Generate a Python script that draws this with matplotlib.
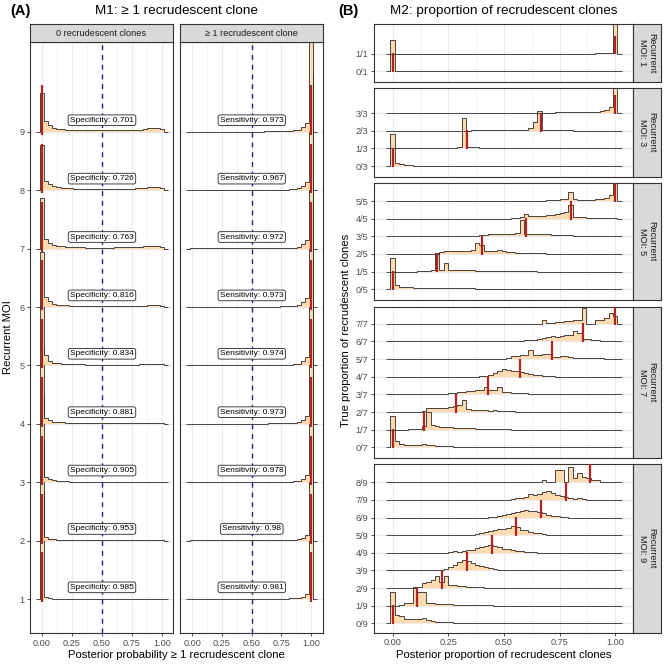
import numpy as np
import matplotlib
matplotlib.use("Agg")
import matplotlib.pyplot as plt

plt.rcParams['font.family'] = ['Liberation Sans', 'DejaVu Sans']

# ---------------- data : panel A (M1) ----------------
moi_levels = [1, 2, 3, 4, 5, 6, 7, 8, 9]
specificity = [0.985, 0.953, 0.905, 0.881, 0.834, 0.816, 0.763, 0.726, 0.701]
sensitivity = [0.981, 0.98, 0.978, 0.973, 0.974, 0.973, 0.972, 0.967, 0.973]
a_nbins = 30  # bins centred on 0 ... 1
# ridge heights (row units), facet "0 recrudescent clones", MOI 1..9
a_hist_zero = [
    [1.85, 0.03, 0.01, 0.008, 0.005, 0.005, 0.003, 0.003, 0.003, 0.003, 0.003, 0.003, 0.003, 0.003, 0.003,
     0.003, 0.003, 0.003, 0.003, 0.003, 0.003, 0.003, 0.003, 0.003, 0.003, 0.003, 0.004, 0.004, 0.003, 0.003],
    [1.7, 0.06, 0.03, 0.02, 0.015, 0.01, 0.01, 0.008, 0.008, 0.005, 0.005, 0.005, 0.005, 0.005, 0.005,
     0.005, 0.005, 0.005, 0.005, 0.005, 0.005, 0.005, 0.005, 0.005, 0.005, 0.005, 0.008, 0.008, 0.005, 0.005],
    [1.5, 0.085, 0.05, 0.03, 0.02, 0.015, 0.015, 0.01, 0.01, 0.01, 0.01, 0.01, 0.01, 0.008, 0.008,
     0.008, 0.008, 0.008, 0.008, 0.008, 0.008, 0.008, 0.008, 0.008, 0.008, 0.01, 0.01, 0.01, 0.01, 0.008],
    [1.3, 0.1, 0.07, 0.04, 0.03, 0.025, 0.02, 0.02, 0.015, 0.015, 0.015, 0.01, 0.01, 0.01, 0.01,
     0.01, 0.01, 0.01, 0.01, 0.01, 0.01, 0.01, 0.01, 0.01, 0.01, 0.015, 0.015, 0.015, 0.015, 0.01],
    [1.1, 0.18, 0.08, 0.05, 0.04, 0.03, 0.03, 0.025, 0.02, 0.02, 0.02, 0.015, 0.015, 0.015, 0.015,
     0.015, 0.015, 0.015, 0.015, 0.015, 0.015, 0.015, 0.015, 0.015, 0.02, 0.02, 0.02, 0.02, 0.02, 0.02],
    [0.95, 0.17, 0.1, 0.06, 0.04, 0.035, 0.03, 0.025, 0.02, 0.02, 0.02, 0.02, 0.015, 0.015, 0.015,
     0.015, 0.015, 0.015, 0.02, 0.02, 0.02, 0.02, 0.02, 0.02, 0.025, 0.025, 0.03, 0.03, 0.03, 0.025],
    [0.86, 0.16, 0.09, 0.06, 0.05, 0.04, 0.035, 0.03, 0.03, 0.025, 0.025, 0.02, 0.02, 0.02, 0.02,
     0.02, 0.02, 0.02, 0.025, 0.025, 0.025, 0.025, 0.03, 0.03, 0.035, 0.04, 0.045, 0.04, 0.04, 0.035],
    [0.77, 0.16, 0.1, 0.07, 0.05, 0.04, 0.04, 0.035, 0.03, 0.03, 0.025, 0.025, 0.025, 0.02, 0.02,
     0.02, 0.02, 0.025, 0.025, 0.025, 0.03, 0.03, 0.03, 0.035, 0.04, 0.045, 0.05, 0.06, 0.055, 0.04],
    [0.67, 0.18, 0.12, 0.07, 0.05, 0.05, 0.04, 0.04, 0.035, 0.03, 0.03, 0.03, 0.03, 0.03, 0.03,
     0.03, 0.03, 0.03, 0.035, 0.035, 0.04, 0.04, 0.035, 0.04, 0.04, 0.05, 0.06, 0.07, 0.065, 0.05],
]
# facet ">= 1 recrudescent clone", MOI 1..9
a_hist_one = [
    [0.004, 0.004, 0.004, 0.004, 0.004, 0.004, 0.004, 0.004, 0.004, 0.004, 0.004, 0.004, 0.004, 0.004, 0.004,
     0.004, 0.004, 0.004, 0.004, 0.005, 0.006, 0.006, 0.008, 0.008, 0.01, 0.015, 0.02, 0.04, 0.09, 1.95],
    [0.004, 0.004, 0.004, 0.004, 0.004, 0.004, 0.004, 0.004, 0.004, 0.004, 0.004, 0.004, 0.004, 0.004, 0.004,
     0.004, 0.004, 0.004, 0.005, 0.005, 0.006, 0.006, 0.008, 0.008, 0.01, 0.015, 0.02, 0.05, 0.1, 1.95],
    [0.005, 0.005, 0.005, 0.005, 0.005, 0.005, 0.005, 0.005, 0.005, 0.005, 0.005, 0.005, 0.005, 0.005, 0.005,
     0.005, 0.005, 0.005, 0.005, 0.006, 0.006, 0.008, 0.008, 0.01, 0.012, 0.015, 0.025, 0.05, 0.12, 1.95],
    [0.005, 0.005, 0.005, 0.005, 0.005, 0.005, 0.005, 0.005, 0.005, 0.005, 0.005, 0.005, 0.005, 0.005, 0.005,
     0.005, 0.006, 0.006, 0.006, 0.007, 0.008, 0.008, 0.01, 0.01, 0.012, 0.02, 0.03, 0.06, 0.14, 1.95],
    [0.005, 0.005, 0.005, 0.005, 0.005, 0.005, 0.005, 0.005, 0.005, 0.005, 0.005, 0.005, 0.005, 0.005, 0.005,
     0.005, 0.006, 0.006, 0.006, 0.007, 0.008, 0.008, 0.01, 0.01, 0.012, 0.02, 0.03, 0.07, 0.15, 1.95],
    [0.005, 0.005, 0.005, 0.005, 0.005, 0.005, 0.005, 0.005, 0.005, 0.005, 0.005, 0.005, 0.005, 0.005, 0.006,
     0.006, 0.006, 0.006, 0.007, 0.007, 0.008, 0.009, 0.01, 0.012, 0.015, 0.02, 0.03, 0.08, 0.15, 1.95],
    [0.005, 0.005, 0.005, 0.005, 0.005, 0.005, 0.005, 0.005, 0.005, 0.005, 0.005, 0.005, 0.006, 0.006, 0.006,
     0.006, 0.006, 0.007, 0.007, 0.008, 0.008, 0.009, 0.01, 0.012, 0.015, 0.02, 0.03, 0.08, 0.15, 1.95],
    [0.005, 0.005, 0.005, 0.005, 0.005, 0.005, 0.005, 0.005, 0.005, 0.005, 0.005, 0.005, 0.006, 0.006, 0.006,
     0.006, 0.007, 0.007, 0.008, 0.008, 0.009, 0.01, 0.01, 0.012, 0.015, 0.02, 0.035, 0.08, 0.15, 1.95],
    [0.005, 0.005, 0.005, 0.005, 0.005, 0.005, 0.005, 0.005, 0.005, 0.005, 0.005, 0.005, 0.006, 0.006, 0.006,
     0.006, 0.007, 0.007, 0.008, 0.008, 0.009, 0.01, 0.01, 0.012, 0.015, 0.025, 0.035, 0.08, 0.15, 1.95],
]
a_facets = ["0 recrudescent clones", "\u2265 1 recrudescent clone"]

# ---------------- data : panel B (M2) ----------------
b_nbins = 51  # bin width 0.02, centred on 0 ... 1
b_moi = [1, 3, 5, 7, 9]
b_rows = [[0, 1], [0, 1, 2, 3], [0, 1, 2, 3, 4, 5], [0, 1, 2, 3, 4, 5, 6, 7],
          [0, 1, 2, 3, 4, 5, 6, 7, 8]]
# each ridge: (first bin index, heights from that bin on)
b_hist_moi1 = [
    (0, [1.79]),
    (46, [0.01, 0.02, 0.03, 0.06, 1.9]),
]
b_hist_moi3 = [
    (0, [1.79, 0.15, 0.10, 0.05, 0.04, 0.03, 0.03, 0.03, 0.03, 0.03, 0.02, 0.02, 0.02, 0.02, 0.02, 0.02,
         0.02, 0.03, 0.03, 0.02, 0.02, 0.02, 0.01, 0.01]),
    (10, [0.01, 0.02, 0.03, 0.04, 0.05, 0.07, 1.7, 0.09, 0.09, 0.06, 0.04, 0.04, 0.04, 0.04, 0.03, 0.03,
          0.03, 0.03, 0.02, 0.02, 0.02, 0.02, 0.02, 0.01, 0.01]),
    (17, [0.01, 0.02, 0.02, 0.02, 0.03, 0.03, 0.04, 0.04, 0.05, 0.05, 0.05, 0.06, 0.06, 0.06, 0.17, 0.47,
          1.11, 0.03, 0.02, 0.02, 0.02, 0.02, 0.02, 0.02, 0.01, 0.01, 0.01, 0.01]),
    (30, [0.01, 0.02, 0.02, 0.03, 0.03, 0.03, 0.03, 0.04, 0.04, 0.04, 0.04, 0.04, 0.04, 0.05, 0.05, 0.05,
          0.06, 0.1, 0.15, 0.34, 2.0]),
]
b_hist_moi5 = [
    (0, [1.79, 0.23, 0.15, 0.11, 0.10, 0.08, 0.07, 0.06, 0.06, 0.05, 0.05, 0.05, 0.05, 0.05, 0.05, 0.06,
         0.06, 0.05, 0.05, 0.04, 0.04, 0.03, 0.03, 0.02, 0.02, 0.02, 0.01, 0.01, 0.01, 0.01, 0.01, 0.01]),
    (6, [0.01, 0.02, 0.04, 0.11, 1.06, 0.08, 0.47, 0.11, 0.10, 0.09, 0.08, 0.07, 0.07, 0.06, 0.05, 0.05,
         0.04, 0.04, 0.03, 0.03, 0.03, 0.02, 0.02, 0.02, 0.01, 0.01, 0.01]),
    (10, [0.02, 0.13, 0.14, 0.15, 0.15, 0.16, 0.17, 0.18, 0.2, 0.62, 0.5, 0.15, 0.14, 0.14, 0.23, 0.14,
          0.12, 0.10, 0.08, 0.07, 0.06, 0.05, 0.04, 0.03, 0.03, 0.02, 0.02, 0.01]),
    (20, [0.05, 0.1, 0.12, 0.12, 0.12, 0.14, 0.15, 0.15, 0.2, 0.94, 0.12, 0.12, 0.13, 0.14, 0.12, 0.11,
          0.1, 0.09, 0.08, 0.06, 0.05, 0.04, 0.03, 0.02, 0.01]),
    (27, [0.02, 0.05, 0.1, 0.26, 0.13, 0.13, 0.14, 0.15, 0.2, 0.22, 0.24, 0.3, 0.38, 0.79, 0.08, 0.07,
          0.07, 0.06, 0.06, 0.05, 0.05, 0.04, 0.03, 0.02]),
    (30, [0.01, 0.02, 0.02, 0.03, 0.03, 0.04, 0.05, 0.08, 0.1, 0.12, 0.49, 0.1, 0.08, 0.08, 0.07, 0.08,
          0.09, 0.12, 0.2, 0.35, 2.0]),
]
b_hist_moi7 = [
    (0, [1.79, 0.34, 0.19, 0.13, 0.13, 0.13, 0.13, 0.17, 0.14, 0.12, 0.1, 0.08, 0.06, 0.05, 0.04, 0.04,
         0.03, 0.03, 0.02, 0.02, 0.02, 0.01, 0.01]),
    (4, [0.02, 0.03, 0.05, 0.19, 1.0, 0.28, 0.23, 0.15, 0.14, 0.13, 0.12, 0.1, 0.09, 0.08, 0.07, 0.06,
         0.05, 0.04, 0.03, 0.03, 0.02, 0.02, 0.01]),
    (7, [0.05, 0.2, 0.22, 0.23, 0.23, 0.24, 0.3, 0.36, 0.42, 0.66, 0.15, 0.14, 0.12, 0.12, 0.1, 0.08,
         0.1, 0.07, 0.05, 0.04, 0.03, 0.02, 0.01]),
    (13, [0.05, 0.1, 0.15, 0.16, 0.18, 0.2, 0.22, 0.22, 0.41, 0.26, 0.26, 0.41, 0.15, 0.12, 0.1, 0.08,
          0.06, 0.05, 0.04, 0.02, 0.01]),
    (20, [0.02, 0.04, 0.08, 0.2, 0.35, 0.43, 0.4, 0.35, 0.3, 0.25, 0.2, 0.15, 0.12, 0.08, 0.05, 0.03,
          0.02, 0.01]),
    (25, [0.03, 0.08, 0.15, 0.2, 0.22, 0.25, 0.53, 0.25, 0.25, 0.28, 0.3, 0.1, 0.1, 0.2, 0.15, 0.1,
          0.08, 0.06, 0.05, 0.05, 0.04, 0.04, 0.04, 0.03, 0.03, 0.02]),
    (27, [0.03, 0.05, 0.05, 0.06, 0.1, 0.1, 0.15, 0.2, 0.25, 0.3, 0.25, 0.3, 0.35, 0.35, 0.6, 0.47,
          0.15, 0.12, 0.08, 0.06, 0.05, 0.04, 0.04, 0.03]),
    (34, [0.19, 0.02, 0.02, 0.1, 0.12, 0.15, 0.18, 0.2, 0.2, 0.89, 0.01, 0.01, 0.2, 0.2, 0.35, 0.64, 0.45]),
]
b_hist_moi9 = [
    (0, [1.79, 0.5, 0.4, 0.25, 0.22, 0.22, 0.22, 0.3, 0.2, 0.15, 0.1, 0.07, 0.05, 0.05, 0.04, 0.03,
         0.03, 0.02, 0.02, 0.01, 0.01]),
    (2, [0.05, 0.13, 0.13, 1.04, 0.8, 0.8, 0.15, 0.13, 0.1, 0.09, 0.08, 0.07, 0.06, 0.05, 0.05, 0.04,
         0.04, 0.03, 0.03, 0.02, 0.02, 0.01]),
    (6, [0.05, 0.26, 0.36, 0.45, 0.68, 0.35, 0.7, 0.17, 0.15, 0.12, 0.1, 0.08, 0.06, 0.05, 0.04, 0.03,
         0.02, 0.01]),
    (10, [0.03, 0.05, 0.1, 0.2, 0.3, 0.45, 0.58, 0.53, 0.4, 0.3, 0.25, 0.2, 0.12, 0.08, 0.05, 0.03,
          0.02, 0.01]),
    (13, [0.02, 0.1, 0.05, 0.12, 0.15, 0.15, 0.25, 0.3, 0.38, 0.45, 0.4, 0.3, 0.22, 0.2, 0.15, 0.12,
          0.08, 0.05, 0.03, 0.02, 0.01]),
    (18, [0.02, 0.05, 0.1, 0.2, 0.25, 0.3, 0.33, 0.35, 0.4, 0.5, 0.45, 0.3, 0.3, 0.2, 0.15, 0.1, 0.05,
          0.03, 0.02]),
    (22, [0.02, 0.03, 0.08, 0.15, 0.2, 0.25, 0.3, 0.35, 0.45, 0.35, 0.38, 0.3, 0.25, 0.15, 0.1, 0.06,
          0.04, 0.02]),
    (26, [0.02, 0.05, 0.1, 0.12, 0.15, 0.35, 0.3, 0.35, 0.45, 0.5, 0.4, 0.3, 0.2, 0.15, 0.1, 0.06, 0.1,
          0.04, 0.02]),
    (34, [0.15, 0.02, 0.02, 0.68, 0.68, 0.02, 0.87, 0.25, 0.5, 0.3, 0.25, 0.15, 0.15]),
]
b_hists = [b_hist_moi1, b_hist_moi3, b_hist_moi5, b_hist_moi7, b_hist_moi9]

# ---------------- styling ----------------
FILL = '#FDDAB0'
EDGE = '#2b2b2b'
RED = '#B3231E'
BLUE = '#1E1E9C'
GRID = '#EBEBEB'
BORDER = '#333333'
STRIPBG = '#D9D9D9'
TICKC = '#4D4D4D'

W = H = 667
fig = plt.figure(figsize=(6.67, 6.67), dpi=100)


def add_ax(x0, y0, x1, y1):
    return fig.add_axes([x0 / W, 1 - y1 / H, (x1 - x0) / W, (y1 - y0) / H])


def style_panel(ax):
    for s in ax.spines.values():
        s.set_color(BORDER)
        s.set_linewidth(0.8)
    ax.set_facecolor('white')
    ax.tick_params(axis='both', colors=BORDER, labelcolor=TICKC, labelsize=6.6,
                   length=2.5, width=0.6, pad=1.5)
    ax.set_xticks([0, 0.25, 0.5, 0.75, 1.0])
    ax.set_xticks([0.125, 0.375, 0.625, 0.875], minor=True)
    ax.tick_params(axis='x', which='minor', length=0)
    ax.grid(True, which='major', color=GRID, lw=0.8, zorder=0)
    ax.grid(True, which='minor', axis='x', color=GRID, lw=0.45, zorder=0)
    ax.set_axisbelow(True)


def draw_ridge(ax, centers, width, heights, y0, z):
    h = np.concatenate([[0.0], heights, [0.0]])
    edges = np.concatenate([[centers[0] - 1.5 * width], centers - width / 2,
                            [centers[-1] + width / 2, centers[-1] + 1.5 * width]])
    ax.stairs(y0 + h, edges, baseline=y0, fill=True, color=FILL, lw=0, zorder=z)
    ax.stairs(y0 + h, edges, baseline=None, color=EDGE, lw=0.6, zorder=z + 0.01)


def strip_top(x0, x1, y0, y1, text):
    s = add_ax(x0, y0, x1, y1)
    s.set_xticks([]); s.set_yticks([])
    s.set_facecolor(STRIPBG)
    for sp in s.spines.values():
        sp.set_color(BORDER); sp.set_linewidth(0.8)
    s.text(0.5, 0.5, text, ha='center', va='center', fontsize=6.6, color='#1A1A1A',
           transform=s.transAxes)


def strip_right(x0, x1, y0, y1, text):
    s = add_ax(x0, y0, x1, y1)
    s.set_xticks([]); s.set_yticks([])
    s.set_facecolor(STRIPBG)
    for sp in s.spines.values():
        sp.set_color(BORDER); sp.set_linewidth(0.8)
    s.text(0.5, 0.5, text, ha='center', va='center', fontsize=6.6, color='#1A1A1A',
           rotation=-90, linespacing=0.95, transform=s.transAxes)


# ================= panel A =================
a_centers = np.linspace(0, 1, a_nbins)
a_w = a_centers[1] - a_centers[0]
a_boxes = [(30, 173, -0.1, 1.092), (180, 323, -0.104, 1.1)]
a_data = [a_hist_zero, a_hist_one]
for j in range(2):
    x0, x1, xl0, xl1 = a_boxes[j]
    ax = add_ax(x0, 42, x1, 633)
    style_panel(ax)
    ax.set_xlim(xl0, xl1)
    ax.set_ylim(0.418, 10.54)
    ax.set_yticks(moi_levels)
    ax.set_xticklabels(['0.00', '0.25', '0.50', '0.75', '1.00'])
    if j == 0:
        ax.set_yticklabels([str(m) for m in moi_levels])
    else:
        ax.tick_params(axis='y', labelleft=False, length=0)
    for i, m in enumerate(moi_levels):
        draw_ridge(ax, a_centers, a_w, np.array(a_data[j][i]), m, 2 + i * 0.1)
    ax.axvline(0.5, color=BLUE, lw=1.0, ls=(0, (3.5, 3.5)), zorder=4)
    xr = 0.0 if j == 0 else 1.0
    for i, m in enumerate(moi_levels):
        ax.plot([xr, xr], [m - 0.05, m + 0.8], color=RED, lw=1.6, zorder=5,
                solid_capstyle='butt')
        lab = (f"Specificity: {specificity[i]:g}" if j == 0
               else f"Sensitivity: {sensitivity[i]:g}")
        ax.text(0.5, m + 0.2, lab, ha='center', va='center', fontsize=6.0, zorder=6,
                bbox=dict(boxstyle='round,pad=0.22,rounding_size=0.25', fc='white',
                          ec='#222222', lw=0.6))
    strip_top(x0, x1, 24, 42, a_facets[j])

fig.text(10 / W, 1 - 11 / H, '(A)', fontsize=10.5, fontweight='bold', ha='left', va='center')
fig.text(176 / W, 1 - 11 / H, 'M1: \u2265 1 recrudescent clone', fontsize=9.7,
         ha='center', va='center')
fig.text(8 / W, 1 - 337 / H, 'Recurrent MOI', fontsize=8.1, rotation=90,
         ha='center', va='center')
fig.text(176 / W, 1 - 655 / H, 'Posterior probability \u2265 1 recrudescent clone',
         fontsize=8.1, ha='center', va='center')

# ================= panel B =================
b_centers = np.linspace(0, 1, b_nbins)
b_w = b_centers[1] - b_centers[0]
b_boxes = [(24, 82), (88, 177), (183, 300), (307, 457.7), (464.3, 632.7)]
b_ybottom = [-0.61, -0.62, -0.61, -0.59, -0.53]
row_px = 17.64
for f, moi in enumerate(b_moi):
    y0, y1 = b_boxes[f]
    ax = add_ax(374, y0, 633, y1)
    style_panel(ax)
    ax.set_xlim(-0.084, 1.08)
    ax.set_ylim(b_ybottom[f], b_ybottom[f] + (y1 - y0) / row_px)
    ks = b_rows[f]
    ax.set_yticks(ks)
    ax.set_yticklabels([f"{k}/{moi}" for k in ks])
    if f == len(b_moi) - 1:
        ax.set_xticklabels(['0.00', '0.25', '0.50', '0.75', '1.00'])
    else:
        ax.tick_params(axis='x', labelbottom=False, length=0)
    for k, (start, vals) in zip(ks, b_hists[f]):
        h = np.zeros(b_nbins)
        h[start:start + len(vals)] = vals
        draw_ridge(ax, b_centers, b_w, h, k, 2 + k * 0.1)
    for k in ks:
        ax.plot([k / moi, k / moi], [k - 0.05, k + 1.02], color=RED, lw=1.6, zorder=5,
                solid_capstyle='butt')
    strip_right(633, 661, y0, y1, f"Recurrent\nMOI: {moi}")

fig.text(338 / W, 1 - 11 / H, '(B)', fontsize=10.5, fontweight='bold', ha='left', va='center')
fig.text(504 / W, 1 - 11 / H, 'M2: proportion of recrudescent clones', fontsize=9.7,
         ha='center', va='center')
fig.text(346 / W, 1 - 330 / H, 'True proportion of recrudescent clones', fontsize=8.1,
         rotation=90, ha='center', va='center')
fig.text(504 / W, 1 - 655 / H, 'Posterior proportion of recrudescent clones', fontsize=8.1,
         ha='center', va='center')

fig.savefig('out.png', dpi=100, facecolor='white')
